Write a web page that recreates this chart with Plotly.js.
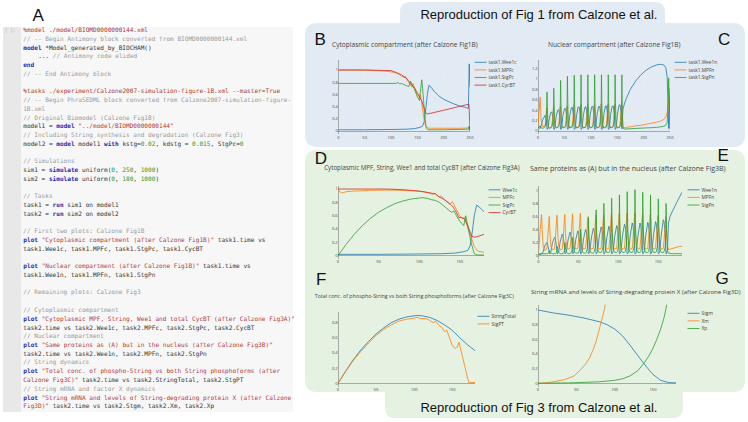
<!DOCTYPE html>
<html><head><meta charset="utf-8">
<script src="https://cdn.plot.ly/plotly-3.0.1.min.js"></script>
<style>
html,body{margin:0;padding:0;overflow:hidden;background:#fff;width:748px;height:422px}
#chart{width:1870px;height:1055px;transform:scale(0.4);transform-origin:0 0;}
</style>
</head><body><div id="chart"></div>
<script>
// ---------------- DATA ----------------
// Panel B (task1, cytoplasm)
const tB_Wee1c = [0,50,100,130,145,155,160,163,166,169,172,176,182,190,200,215,230,240,247,248.5,250];
const B_Wee1c  = [0.02,0.02,0.025,0.03,0.04,0.06,0.08,0.15,0.35,0.6,0.75,0.72,0.65,0.58,0.52,0.46,0.41,0.39,0.37,1.1,0.72];
const tB_MPFc = [0,30,60,90,100,110,117,120,123,125,127,131,136,140,142,146,150,154,156,158,160,163,166,170,175,200,230,246,248,250];
const B_MPFc  = [1.0,1.0,0.995,0.98,0.97,0.95,0.92,0.89,0.9,0.87,0.9,0.83,0.77,0.72,0.78,0.67,0.6,0.55,0.6,0.48,0.35,0.18,0.08,0.05,0.045,0.045,0.045,0.05,0.07,0.0];
const tB_StgPc = [0,50,100,110,113,116,120,125,130,134,137,141,145,150,154,156.5,158.5,161,164,167,170,200,240,247,248.5,250];
const B_StgPc  = [0.78,0.78,0.78,0.78,0.8,0.77,0.78,0.76,0.74,0.73,0.82,0.74,0.68,0.56,0.5,0.7,0.84,0.6,0.25,0.05,0.02,0.02,0.025,0.03,0.08,0.0];
const tB_CycBT = [0,50,100,110,120,125,128,130,135,140,145,150,155,158,162,166,169,175,200,225,245,248,250];
const B_CycBT  = [1.0,1.0,0.99,0.96,0.92,0.89,0.87,0.86,0.8,0.75,0.7,0.63,0.55,0.5,0.4,0.3,0.28,0.29,0.34,0.39,0.43,0.44,0.02];

// Panel C (task1, nucleus)
const tC = [0,2,4,6,9,
13.5,15.5,16.5,17,17.7,19,21.5,24.5,
26.4,28.4,29.4,29.9,30.6,31.9,34.4,37.4,
39.3,41.3,42.3,42.8,43.5,44.8,47.3,50.3,
52.2,54.2,55.2,55.7,56.4,57.7,60.2,63.2,
65.1,67.1,68.1,68.6,69.3,70.6,73.1,76.1,
78,80,81,81.5,82.2,83.5,86,89,
90.9,92.9,93.9,94.4,95.1,96.4,98.9,101.9,
103.8,105.8,106.8,107.3,108,109.3,111.8,114.8,
116.7,118.7,119.7,120.2,120.9,122.2,124.7,127.7,
129.6,131.6,132.6,133.1,133.8,135.1,137.6,140.6,
142.5,144.5,145.5,146,146.7,148,150.5,153.5,
155.4,157.4,158.4,158.9,
159.6,161,163,167,175,185,195,205,215,225,232,238,242,244.5,246.5,247.5,248.5,250];
const C_Wee1n = [0.08,0.06,0.05,0.1,0.22,
0.3,0.22,0.1,0.04,0.03,0.06,0.25,0.36,
0.36,0.26,0.11,0.04,0.03,0.06,0.28,0.4,
0.41,0.29,0.12,0.04,0.03,0.06,0.3,0.43,
0.43,0.3,0.12,0.04,0.03,0.06,0.3,0.45,
0.45,0.31,0.12,0.04,0.03,0.06,0.31,0.46,
0.46,0.32,0.12,0.04,0.03,0.06,0.31,0.46,
0.46,0.32,0.12,0.04,0.03,0.06,0.32,0.47,
0.47,0.33,0.12,0.04,0.03,0.06,0.32,0.47,
0.47,0.33,0.12,0.04,0.03,0.06,0.32,0.48,
0.48,0.33,0.12,0.04,0.03,0.06,0.32,0.48,
0.48,0.33,0.12,0.04,0.03,0.06,0.32,0.5,
0.5,0.35,0.12,0.04,
0.2,0.42,0.5,0.62,0.8,0.96,1.08,1.17,1.23,1.27,1.28,1.27,1.22,1.05,0.5,0.05,0.3,0.82];
const C_MPFn = [0.1,0.4,0.65,0.2,0.08,
0.1,0.3,0.45,0.4,0.22,0.1,0.06,0.07,
0.12,0.33,0.46,0.4,0.24,0.1,0.06,0.07,
0.12,0.34,0.47,0.42,0.25,0.1,0.06,0.07,
0.12,0.35,0.48,0.42,0.25,0.1,0.06,0.07,
0.12,0.35,0.5,0.44,0.25,0.1,0.06,0.07,
0.12,0.36,0.5,0.44,0.25,0.1,0.06,0.07,
0.12,0.36,0.5,0.44,0.25,0.1,0.06,0.07,
0.12,0.36,0.5,0.44,0.25,0.1,0.06,0.07,
0.12,0.37,0.52,0.45,0.25,0.1,0.06,0.07,
0.12,0.37,0.52,0.45,0.25,0.1,0.06,0.07,
0.12,0.37,0.52,0.45,0.25,0.1,0.06,0.07,
0.12,0.38,0.55,0.46,
0.2,0.07,0.06,0.07,0.08,0.1,0.11,0.13,0.15,0.17,0.19,0.22,0.27,0.35,0.55,0.62,0.4,0.02];
const C_StgPn = [0.05,0.08,0.1,0.06,0.05,
0.08,0.18,0.45,0.75,0.45,0.1,0.05,0.06,
0.08,0.2,0.5,0.82,0.5,0.12,0.06,0.07,
0.08,0.2,0.55,0.97,0.55,0.12,0.06,0.07,
0.08,0.2,0.55,1.05,0.55,0.12,0.06,0.07,
0.08,0.2,0.55,1.07,0.55,0.12,0.06,0.07,
0.08,0.2,0.55,1.08,0.55,0.12,0.06,0.07,
0.08,0.2,0.55,1.08,0.55,0.12,0.06,0.07,
0.08,0.2,0.55,1.08,0.55,0.12,0.06,0.07,
0.08,0.2,0.55,1.08,0.55,0.12,0.06,0.07,
0.08,0.2,0.55,1.08,0.55,0.12,0.06,0.07,
0.08,0.2,0.55,1.08,0.55,0.12,0.06,0.07,
0.08,0.2,0.55,1.08,
0.4,0.06,0.04,0.04,0.045,0.05,0.055,0.06,0.065,0.07,0.08,0.09,0.11,0.15,0.5,1.02,0.6,0.05];

// Panel D (task2, cytoplasm)
const tD_Wee1c = [0,50,100,130,145,155,160,163,166,168,171,175,180];
const D_Wee1c  = [0.02,0.02,0.025,0.03,0.04,0.06,0.08,0.15,0.4,0.6,0.76,0.72,0.66];
const tD_MPFc = [0,2,5,10,20,40,60,80,95,105,112,117,119,122,125,127,132,138,141,145,150,154,156,160,164,168,172,180];
const D_MPFc  = [1.0,0.96,0.94,0.96,0.97,0.98,0.985,0.98,0.97,0.96,0.94,0.92,0.94,0.9,0.88,0.9,0.83,0.77,0.81,0.72,0.6,0.55,0.58,0.42,0.28,0.14,0.07,0.05];
const tD_StgPc = [0,10,20,30,40,50,60,70,80,90,100,105,110,115,120,125,130,135,140,143,146,150,155,157.5,160,164,168,172,180];
const D_StgPc  = [0,0.17,0.32,0.45,0.56,0.65,0.72,0.78,0.82,0.85,0.865,0.87,0.86,0.84,0.83,0.8,0.75,0.7,0.65,0.67,0.6,0.52,0.45,0.6,0.45,0.2,0.03,0.01,0.01];
const tD_CycBT = [0,60,80,100,110,118,120,125,130,138,142,146,149,153,156,160,163,166,170,175,180];
const D_CycBT  = [1.0,1.0,0.99,0.97,0.95,0.93,0.93,0.88,0.85,0.78,0.73,0.65,0.57,0.57,0.55,0.45,0.35,0.28,0.28,0.3,0.32];

// Panel E (task2, nucleus)
const tE = [0,
1.5,3,3.7,4,4.6,5.8,7.8,10.3,
11.25,12.75,13.45,13.75,14.35,15.55,17.55,20.05,
21,22.5,23.2,23.5,24.1,25.3,27.3,29.8,
30.75,32.25,32.95,33.25,33.85,35.05,37.05,39.55,
40.5,42,42.7,43,43.6,44.8,46.8,49.3,
50.25,51.75,52.45,52.75,53.35,54.55,56.55,59.05,
60,61.5,62.2,62.5,63.1,64.3,66.3,68.8,
69.75,71.25,71.95,72.25,72.85,74.05,76.05,78.55,
79.5,81,81.7,82,82.6,83.8,85.8,88.3,
89.25,90.75,91.45,91.75,92.35,93.55,95.55,98.05,
99,100.5,101.2,101.5,102.1,103.3,105.3,107.8,
108.75,110.25,110.95,111.25,111.85,113.05,115.05,117.55,
118.5,120,120.7,121,121.6,122.8,124.8,127.3,
128.25,129.75,130.45,130.75,131.35,132.55,134.55,137.05,
138,139.5,140.2,140.5,141.1,142.3,144.3,146.8,
147.75,149.25,149.95,150.25,150.85,152.05,154.05,156.55,
157.5,159,159.7,160,
160.6,161.8,163,165,168,171,174,177,180];
const E_Wee1n = [0.02,
0.03,0.03,0.03,0.03,0.03,0.06,0.15,0.2,
0.18,0.1,0.05,0.03,0.03,0.06,0.2,0.28,
0.26,0.15,0.06,0.03,0.03,0.06,0.22,0.33,
0.3,0.17,0.07,0.03,0.03,0.06,0.24,0.36,
0.33,0.19,0.07,0.03,0.03,0.06,0.25,0.38,
0.35,0.2,0.08,0.03,0.03,0.06,0.26,0.4,
0.37,0.21,0.08,0.03,0.03,0.06,0.27,0.42,
0.39,0.22,0.08,0.03,0.03,0.06,0.28,0.44,
0.41,0.23,0.08,0.03,0.03,0.06,0.28,0.45,
0.42,0.24,0.08,0.03,0.03,0.06,0.29,0.46,
0.43,0.24,0.08,0.03,0.03,0.06,0.3,0.48,
0.45,0.25,0.08,0.03,0.03,0.06,0.3,0.5,
0.47,0.26,0.08,0.03,0.03,0.06,0.31,0.5,
0.47,0.26,0.08,0.03,0.03,0.06,0.31,0.51,
0.48,0.27,0.08,0.03,0.03,0.06,0.32,0.52,
0.49,0.28,0.08,0.03,0.03,0.06,0.33,0.55,
0.52,0.3,0.08,0.03,
0.03,0.1,0.5,0.6,0.68,0.76,0.83,0.9,0.97];
const E_MPFn = [0.05,
0.3,0.55,0.63,0.6,0.4,0.15,0.08,0.1,
0.22,0.48,0.6,0.55,0.35,0.14,0.09,0.1,
0.22,0.5,0.62,0.57,0.35,0.14,0.09,0.1,
0.23,0.5,0.63,0.58,0.35,0.14,0.1,0.11,
0.23,0.51,0.64,0.58,0.35,0.14,0.1,0.11,
0.24,0.52,0.65,0.6,0.36,0.15,0.1,0.11,
0.24,0.5,0.6,0.56,0.34,0.15,0.1,0.11,
0.24,0.5,0.62,0.57,0.34,0.15,0.1,0.11,
0.25,0.52,0.63,0.58,0.35,0.15,0.1,0.11,
0.25,0.52,0.64,0.58,0.35,0.15,0.1,0.11,
0.25,0.52,0.64,0.58,0.35,0.15,0.1,0.11,
0.25,0.53,0.65,0.6,0.36,0.15,0.1,0.11,
0.25,0.53,0.65,0.6,0.36,0.15,0.1,0.11,
0.25,0.52,0.64,0.58,0.35,0.15,0.1,0.11,
0.25,0.52,0.63,0.58,0.35,0.15,0.1,0.11,
0.25,0.5,0.62,0.57,0.34,0.15,0.1,0.11,
0.24,0.5,0.6,0.55,
0.35,0.15,0.09,0.1,0.11,0.12,0.13,0.14,0.145];
const E_StgPn = [0.02,
0.02,0.02,0.03,0.03,0.03,0.03,0.03,0.03,
0.03,0.04,0.06,0.08,0.06,0.04,0.03,0.03,
0.03,0.05,0.09,0.14,0.09,0.05,0.03,0.03,
0.03,0.06,0.12,0.2,0.12,0.05,0.03,0.03,
0.04,0.08,0.16,0.28,0.16,0.06,0.04,0.04,
0.04,0.1,0.22,0.4,0.22,0.07,0.04,0.04,
0.05,0.12,0.3,0.58,0.3,0.08,0.04,0.04,
0.05,0.13,0.36,0.7,0.36,0.09,0.05,0.05,
0.06,0.14,0.4,0.8,0.4,0.1,0.05,0.05,
0.06,0.15,0.43,0.88,0.43,0.1,0.05,0.05,
0.06,0.15,0.45,0.93,0.45,0.1,0.05,0.05,
0.06,0.15,0.47,0.98,0.47,0.1,0.05,0.05,
0.06,0.15,0.48,1.01,0.48,0.1,0.05,0.05,
0.06,0.15,0.46,0.97,0.46,0.1,0.05,0.05,
0.06,0.15,0.45,0.93,0.45,0.1,0.05,0.05,
0.06,0.15,0.43,0.87,0.43,0.1,0.05,0.05,
0.06,0.14,0.4,0.8,
0.4,0.08,0.04,0.035,0.03,0.03,0.03,0.03,0.03];

// Panel F (String dynamics)
const tF_total = [0,10,20,30,40,50,60,70,80,90,100,105,110,120,130,140,150,160,170,180];
const F_StringTotal = [0,0.16,0.31,0.44,0.55,0.65,0.73,0.8,0.845,0.875,0.89,0.895,0.89,0.87,0.83,0.77,0.7,0.6,0.51,0.43];
const tF_PT = [0,10,20,30,40,50,60,70,80,90,100,104,108,113,117,120,125,128,132,137,140,143,147,150,154,157,159,162,166,170,172,180];
const F_StgPT = [0,0.155,0.3,0.42,0.53,0.63,0.71,0.77,0.82,0.845,0.86,0.87,0.855,0.85,0.85,0.83,0.8,0.82,0.77,0.73,0.68,0.7,0.58,0.5,0.46,0.48,0.54,0.42,0.25,0.08,0.01,0.01];

// Panel G (String mRNA and X)
const tG_Stgm = [0,20,40,60,80,90,100,110,120,130,138,145,150,160,170,180];
const G_Stgm  = [1.0,0.96,0.93,0.89,0.84,0.8,0.74,0.65,0.52,0.38,0.27,0.18,0.12,0.04,0.01,0.005];
const tG_Xm = [0,10,20,35,47,56,62,67,72,76,79,82,85,87,88.5];
const G_Xm  = [0,0.005,0.02,0.05,0.1,0.19,0.26,0.34,0.46,0.58,0.7,0.82,0.93,1.02,1.15];
const tG_Xp = [0,40,80,100,110,120,130,138,145,150,155,160,164,167,169];
const G_Xp  = [0,0.005,0.02,0.04,0.06,0.1,0.17,0.27,0.38,0.48,0.6,0.74,0.88,1.02,1.15];

// Code listing (panel A)
const codeLines = [
'%model ./model/BIOMD0000000144.xml',
'// -- Begin Antimony block converted from BIOMD0000000144.xml',
'model *Model_generated_by_BIOCHAM()',
'  ... // Antimony code elided',
'end',
'// -- End Antimony block',
'',
'%tasks ./experiment/Calzone2007-simulation-figure-1B.xml --master=True',
'// -- Begin PhraSEDML block converted from Calzone2007-simulation-figure-',
'1B.xml',
'// Original Biomodel (Calzone Fig1B)',
'model1 = model "../model/BIOMD0000000144"',
'// Including String synthesis and degradation (Calzone Fig3)',
'model2 = model model1 with kstg=0.02, kdstg = 0.015, StgPc=0',
'',
'// Simulations',
'sim1 = simulate uniform(0, 250, 1000)',
'sim2 = simulate uniform(0, 180, 1000)',
'',
'// Tasks',
'task1 = run sim1 on model1',
'task2 = run sim2 on model2',
'',
'// First two plots: Calzone Fig1B',
'plot "Cytoplasmic compartment (after Calzone Fig1B)" task1.time vs',
'task1.Wee1c, task1.MPFc, task1.StgPc, task1.CycBT',
'',
'plot "Nuclear compartment (after Calzone Fig1B)" task1.time vs',
'task1.Wee1n, task1.MPFn, task1.StgPn',
'',
'// Remaining plots: Calzone Fig3',
'',
'// Cytoplasmic compartment',
'plot "Cytoplasmic MPF, String, Wee1 and total CycBT (after Calzone Fig3A)"',
'task2.time vs task2.Wee1c, task2.MPFc, task2.StgPc, task2.CycBT',
'// Nuclear compartment',
'plot "Same proteins as (A) but in the nucleus (after Calzone Fig3B)"',
'task2.time vs task2.Wee1n, task2.MPFn, task2.StgPn',
'// String dynamics',
'plot "Total conc. of phospho-String vs both String phosphoforms (after',
'Calzone Fig3C)" task2.time vs task2.StringTotal, task2.StgPT',
'// String mRNA and factor X dynamics',
'plot "String mRNA and levels of String-degrading protein X (after Calzone',
'Fig3D)" task2.time vs task2.Stgm, task2.Xm, task2.Xp'
];
const commentContinuation = [9];

// ---------------- HELPERS ----------------
const W = 748, H = 422, S = 2.5;
const px = v => v / W;
const py = v => 1 - v / H;
const COL = {plain:'#333333', comment:'#9a9a9a', magic:'#a83a32', kw:'#2626b0', str:'#b23c3c', num:'#2f9a2f'};
const BLUE='#1f77b4', ORANGE='#ff7f0e', GREEN='#2ca02c', RED='#d62728';

function esc(t){return t.replace(/&/g,'&amp;').replace(/</g,'&lt;').replace(/>/g,'&gt;');}
function sp(t,c,b){ if(!t) return ''; const s='<span style="color:'+c+'">'+esc(t)+'</span>'; return b?'<b>'+s+'</b>':s; }
function highlight(lines, cont){
  let inStr=false; const out=[];
  lines.forEach((line,idx)=>{
    if(cont.includes(idx)){out.push(sp(line,COL.comment));return;}
    if(line.startsWith('%')){out.push(sp(line,COL.magic));return;}
    let html='', i=0;
    if(inStr){ const j=line.indexOf('"'); if(j<0){out.push(sp(line,COL.str));return;} html+=sp(line.slice(0,j+1),COL.str); i=j+1; inStr=false; }
    const re=/(\/\/.*$)|("[^"]*"?)|\b(model|end|simulate|run|plot|with)\b|((?<![\w.])\d+(?:\.\d+)?(?![\w.]))/g;
    re.lastIndex=i; let m;
    while((m=re.exec(line))){
      html+=sp(line.slice(i,m.index),COL.plain);
      if(m[1]) html+=sp(m[1],COL.comment);
      else if(m[2]){ html+=sp(m[2],COL.str); if(m[2].length===1||!m[2].endsWith('"')) inStr=true; }
      else if(m[3]) html+=sp(m[3],COL.kw,true);
      else html+=sp(m[4],COL.num);
      i=re.lastIndex;
    }
    html+=sp(line.slice(i),COL.plain);
    out.push(html);
  });
  return out;
}
function rr(x0,y0,x1,y1,r){
  const X=v=>px(v), Y=v=>py(v);
  return 'M'+X(x0+r)+','+Y(y0)+' L'+X(x1-r)+','+Y(y0)+' Q'+X(x1)+','+Y(y0)+' '+X(x1)+','+Y(y0+r)+
    ' L'+X(x1)+','+Y(y1-r)+' Q'+X(x1)+','+Y(y1)+' '+X(x1-r)+','+Y(y1)+
    ' L'+X(x0+r)+','+Y(y1)+' Q'+X(x0)+','+Y(y1)+' '+X(x0)+','+Y(y1-r)+
    ' L'+X(x0)+','+Y(y0+r)+' Q'+X(x0)+','+Y(y0)+' '+X(x0+r)+','+Y(y0)+' Z';
}
function tr(x,y,name,color,ax,leg){
  return {x:x,y:y,name:name,type:'scatter',mode:'lines',line:{color:color,width:2},
          xaxis:'x'+ax,yaxis:'y'+ax,legend:leg};
}

// ---------------- TRACES ----------------
const data = [
  tr(tB_Wee1c,B_Wee1c,'task1.Wee1c',BLUE,'','legend'),
  tr(tB_MPFc,B_MPFc,'task1.MPFc',ORANGE,'','legend'),
  tr(tB_StgPc,B_StgPc,'task1.StgPc',GREEN,'','legend'),
  tr(tB_CycBT,B_CycBT,'task1.CycBT',RED,'','legend'),
  tr(tC,C_Wee1n,'task1.Wee1n',BLUE,'2','legend2'),
  tr(tC,C_MPFn,'task1.MPFn',ORANGE,'2','legend2'),
  tr(tC,C_StgPn,'task1.StgPn',GREEN,'2','legend2'),
  tr(tD_Wee1c,D_Wee1c,'Wee1c',BLUE,'3','legend3'),
  tr(tD_MPFc,D_MPFc,'MPFc',ORANGE,'3','legend3'),
  tr(tD_StgPc,D_StgPc,'StgPc',GREEN,'3','legend3'),
  tr(tD_CycBT,D_CycBT,'CycBT',RED,'3','legend3'),
  tr(tE,E_Wee1n,'Wee1n',BLUE,'4','legend4'),
  tr(tE,E_MPFn,'MPFn',ORANGE,'4','legend4'),
  tr(tE,E_StgPn,'StgPn',GREEN,'4','legend4'),
  tr(tF_total,F_StringTotal,'StringTotal',BLUE,'5','legend5'),
  tr(tF_PT,F_StgPT,'StgPT',ORANGE,'5','legend5'),
  tr(tG_Stgm,G_Stgm,'Stgm',BLUE,'6','legend6'),
  tr(tG_Xm,G_Xm,'Xm',ORANGE,'6','legend6'),
  tr(tG_Xp,G_Xp,'Xp',GREEN,'6','legend6')
];

// ---------------- LAYOUT ----------------
const axBase = {showgrid:true, gridcolor:'#eeeeee', gridwidth:1, zeroline:true, zerolinecolor:'#444', zerolinewidth:1,
  showline:false, ticks:'', tickfont:{size:10,color:'#444',family:'Open Sans'}};
function xa(x0,x1,range,anchor){return Object.assign({},axBase,{domain:[px(x0),px(x1)],range:range,dtick:50,anchor:anchor});}
function ya(ytop,ybot,range,anchor){return Object.assign({},axBase,{domain:[py(ybot),py(ytop)],range:range,dtick:0.2,anchor:anchor});}
function leg(x,y){return {x:px(x),y:py(y),xanchor:'left',yanchor:'top',bgcolor:'rgba(0,0,0,0)',borderwidth:0,
  font:{size:12,color:'#444',family:'Open Sans'}};}

const annotations = [];
const hl = highlight(codeLines, commentContinuation);
hl.forEach((h,i)=>{
  if(!codeLines[i].trim()) return;
  const indent = codeLines[i].length - codeLines[i].replace(/^ +/,'').length;
  annotations.push({xref:'paper',yref:'paper',x:px(22.5+indent*3.67),y:py(30+i*8.75),xanchor:'left',yanchor:'middle',
    showarrow:false,text:h,font:{family:'DejaVu Sans Mono',size:15.25,color:COL.plain}});
});
function txt(t,x,y,size,opts){
  annotations.push(Object.assign({xref:'paper',yref:'paper',x:px(x),y:py(y),xanchor:'left',yanchor:'middle',showarrow:false,
    text:t,font:{family:'Open Sans',size:size*S,color:'#444'}},opts||{}));
}
// cell prompt
txt('[ ]:',4,30.5,4.6,{font:{family:'DejaVu Sans Mono',size:4.6*S,color:'#aaaaaa'}});
// panel letters
const LF = {family:'Liberation Sans',size:17*S,color:'#111'};
txt('A',38,15,17,{xanchor:'center',font:LF});
txt('B',320,39,17,{xanchor:'center',font:LF});
txt('C',724,39,17,{xanchor:'center',font:LF});
txt('D',321,158,17,{xanchor:'center',font:LF});
txt('E',723,155,17,{xanchor:'center',font:LF});
txt('F',321,279,17,{xanchor:'center',font:LF});
txt('G',722,278,17,{xanchor:'center',font:LF});
// group captions
const CF = {family:'Liberation Sans',size:13*S,color:'#111'};
txt('Reproduction of Fig 1 from Calzone et al.',539,15,13,{xanchor:'center',font:CF});
txt('Reproduction of Fig 3 from Calzone et al.',539,407,13,{xanchor:'center',font:CF});
// plot titles
txt('Cytoplasmic compartment (after Calzone Fig1B)',331,44.5,6.6);
txt('Nuclear compartment (after Calzone Fig1B)',547,44.5,6.6);
txt('Cytoplasmic MPF, String, Wee1 and total CycBT (after Calzone Fig3A)',323,168,6.2);
txt('Same proteins as (A) but in the nucleus (after Calzone Fig3B)',529,168,7.0);
txt('Total conc. of phospho-String vs both String phosphoforms (after Calzone Fig3C)',314,296,5.35);
txt('String mRNA and levels of String-degrading protein X (after Calzone Fig3D)',530,291.5,6.1);

const blueBg='#e2ebf3', greenBg='#e5f1e1';
const shapes = [
  {type:'rect',xref:'paper',yref:'paper',x0:px(3),x1:px(293),y0:py(412),y1:py(27),fillcolor:'#f7f7f7',line:{width:0},layer:'below'},
  {type:'rect',xref:'paper',yref:'paper',x0:px(3),x1:px(21),y0:py(412),y1:py(27),fillcolor:'#e8e8e8',line:{width:0},layer:'below'},
  {type:'path',xref:'paper',yref:'paper',path:rr(400,2,665,40,10),fillcolor:blueBg,line:{width:0},layer:'below'},
  {type:'path',xref:'paper',yref:'paper',path:rr(305,23,745,147,12),fillcolor:blueBg,line:{width:0},layer:'below'},
  {type:'path',xref:'paper',yref:'paper',path:rr(305,150,745,392,12),fillcolor:greenBg,line:{width:0},layer:'below'},
  {type:'path',xref:'paper',yref:'paper',path:rr(385,370,683,418,10),fillcolor:greenBg,line:{width:0},layer:'below'}
];

const layout = {
  width:1870, height:1055, margin:{l:0,r:0,t:0,b:0,pad:0},
  paper_bgcolor:'#ffffff', plot_bgcolor:'rgba(0,0,0,0)',
  font:{family:'Open Sans',color:'#444'},
  xaxis: xa(338.3,470,[0,250],'y'),   yaxis: ya(59.9,134.4,[-0.0555,1.1655],'x'),
  xaxis2:xa(538,670,[0,250],'y2'),    yaxis2:ya(59.9,134.4,[-0.065,1.365],'x2'),
  xaxis3:xa(338,484,[0,180],'y3'),    yaxis3:ya(185.7,259,[-0.05,1.05],'x3'),
  xaxis4:xa(538.5,682,[0,180],'y4'),  yaxis4:ya(185.7,259,[-0.051,1.071],'x4'),
  xaxis5:xa(338,475,[0,180],'y5'),    yaxis5:ya(312,386.7,[-0.045,0.94],'x5'),
  xaxis6:xa(538,676,[0,180],'y6'),    yaxis6:ya(304.8,387,[-0.051,1.071],'x6'),
  legend: leg(472.5,56.5), legend2: leg(672.5,56.5), legend3: leg(486.5,184),
  legend4: leg(685.5,184), legend5: leg(475.5,310.5), legend6: leg(685.5,307.5),
  annotations: annotations, shapes: shapes
};

Plotly.newPlot('chart', data, layout, {staticPlot:true, displayModeBar:false});
</script></body></html>
